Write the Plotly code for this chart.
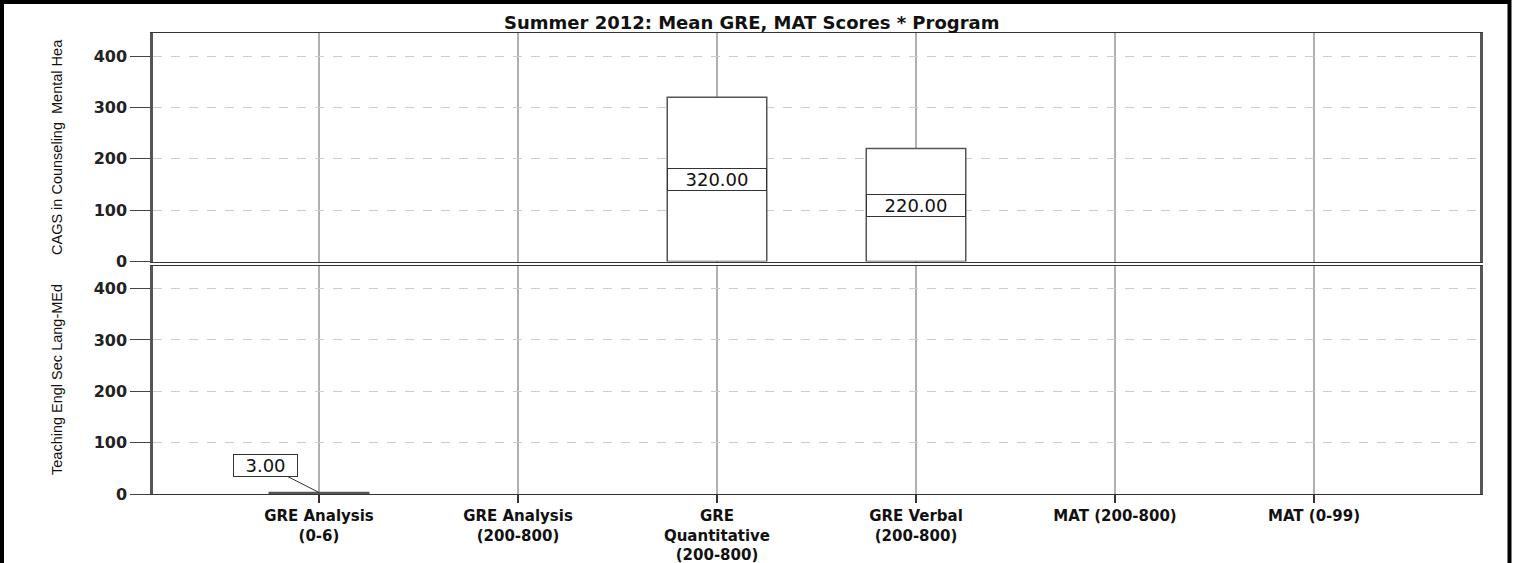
import plotly.graph_objects as go
from plotly.subplots import make_subplots

# ---- data ----
categories = ["GRE Analysis (0-6)", "GRE Analysis (200-800)", "GRE Quantitative (200-800)",
              "GRE Verbal (200-800)", "MAT (200-800)", "MAT (0-99)"]
tick_labels = ["GRE Analysis<br>(0-6)", "GRE Analysis<br>(200-800)", "GRE<br>Quantitative<br>(200-800)",
               "GRE Verbal<br>(200-800)", "MAT (200-800)", "MAT (0-99)"]
programs = ["CAGS in Counseling  Mental Hea", "Teaching Engl Sec Lang-MEd"]
cags_values = [None, None, 320.00, 220.00, None, None]
tesl_values = [3.00, None, None, None, None, None]
title_text = "Summer 2012: Mean GRE, MAT Scores * Program"
y_ticks = [0, 100, 200, 300, 400]

W, H = 1515, 563
L, R, T, B = 153, 35, 33, 69
PW, PH = W - L - R, H - T - B

def px_x(p):
    return (p - L) / PW

def px_y(p):
    return (H - B - p) / PH

fig = make_subplots(rows=2, cols=1, shared_xaxes=True, vertical_spacing=4 / PH)

xidx = list(range(len(categories)))
for row, vals in ((1, cags_values), (2, tesl_values)):
    fig.add_trace(go.Bar(x=xidx, y=vals, width=0.5,
                         marker=dict(color="white", line=dict(color="#555555", width=1.5)),
                         showlegend=False, hoverinfo="skip"), row=row, col=1)

bold = "DejaVu Sans, Arial, sans-serif"
for r in (1, 2):
    fig.update_yaxes(range=[0, 445], tickvals=y_ticks, ticks="outside", ticklen=20,
                     tickcolor="#444444", tickwidth=1, automargin=False,
                     tickfont=dict(family=bold, size=16, color="#222222", weight="bold"),
                     showline=True, linewidth=2.5, linecolor="#555555", mirror=True,
                     showgrid=True, gridcolor="#cccccc", griddash="dash", gridwidth=1,
                     zeroline=False, row=r, col=1)
    fig.update_xaxes(range=[-0.834, 5.834], tickvals=xidx, ticktext=tick_labels,
                     tickangle=0, automargin=False,
                     showline=True, linewidth=1, linecolor="#333333", mirror=True,
                     showgrid=True, gridcolor="#b0b0b0", gridwidth=1.5,
                     zeroline=False, row=r, col=1)
fig.update_xaxes(showticklabels=False, ticks="", row=1, col=1)
fig.update_xaxes(ticks="outside", ticklen=8, tickcolor="#333333", tickwidth=2,
                 tickfont=dict(family=bold, size=15, color="#111111", weight="bold"),
                 row=2, col=1)

annotations = []
# value labels
for xi, v in enumerate(cags_values):
    if v is not None:
        annotations.append(dict(x=xi, y=v / 2, xref="x", yref="y", text=f"{v:.2f}",
                                showarrow=False, width=96, height=19,
                                bgcolor="white", bordercolor="#333333", borderwidth=1,
                                font=dict(family="DejaVu Sans, Arial", size=18, color="#111111")))
for xi, v in enumerate(tesl_values):
    if v is not None:
        annotations.append(dict(x=xi, y=v, xref="x2", yref="y2", text=f"{v:.2f}",
                                showarrow=True, arrowhead=0, arrowwidth=1, arrowcolor="#333333",
                                ax=-53, ay=-27, width=61, height=19,
                                bgcolor="white", bordercolor="#333333", borderwidth=1,
                                font=dict(family="DejaVu Sans, Arial", size=18, color="#111111")))
# title
annotations.append(dict(x=px_x(751), y=px_y(23), xref="paper", yref="paper", text=title_text,
                        showarrow=False, xanchor="center", yanchor="middle",
                        font=dict(family=bold, size=18, color="#111111", weight="bold")))
# y-axis titles (program names)
for name, yc in ((programs[0], 147), (programs[1], 380)):
    annotations.append(dict(x=px_x(57), y=px_y(yc), xref="paper", yref="paper", text=name,
                            showarrow=False, textangle=-90, xanchor="center", yanchor="middle",
                            font=dict(family="Liberation Sans, Arial", size=14.5,
                                      color="#111111")))

shapes = [dict(type="rect", xref="paper", yref="paper",
               x0=px_x(2), x1=px_x(1509.5), y0=px_y(620), y1=px_y(2),
               line=dict(color="black", width=4), fillcolor="rgba(0,0,0,0)", layer="above")]

fig.update_layout(width=W, height=H, margin=dict(l=L, r=R, t=T, b=B, autoexpand=False),
                  paper_bgcolor="white", plot_bgcolor="white",
                  annotations=annotations, shapes=shapes, bargap=0.5)

fig.write_html("out.html", config={"displayModeBar": False},
               post_script="document.body.style.margin='0';document.body.style.overflow='hidden';")
